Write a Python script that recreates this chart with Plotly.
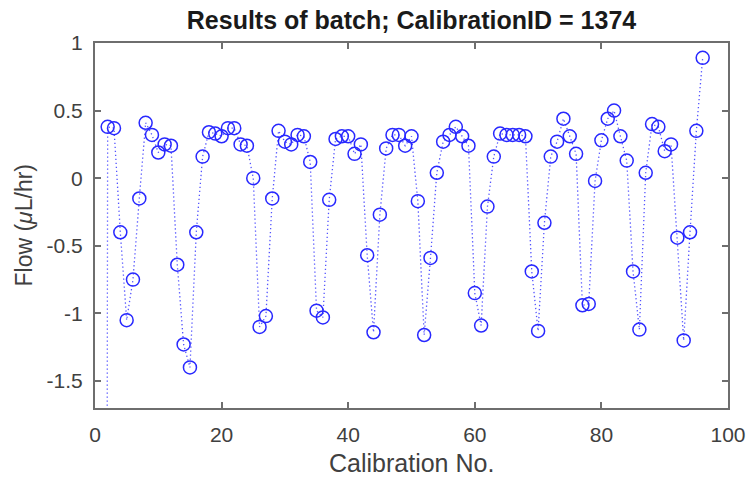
import plotly.graph_objects as go

# Flow measured for each calibration in the batch (µL/hr).
# The first calibration lies far below the plotted range.
flow = [
    -30.0, 0.38, 0.37, -0.40, -1.05, -0.75, -0.15, 0.41, 0.32, 0.19,
    0.25, 0.24, -0.64, -1.23, -1.40, -0.40, 0.16, 0.34, 0.33, 0.31,
    0.37, 0.37, 0.25, 0.24, 0.00, -1.10, -1.02, -0.15, 0.35, 0.27,
    0.25, 0.32, 0.31, 0.12, -0.98, -1.03, -0.16, 0.29, 0.31, 0.31,
    0.18, 0.25, -0.57, -1.14, -0.27, 0.22, 0.32, 0.32, 0.24, 0.31,
    -0.17, -1.16, -0.59, 0.04, 0.27, 0.32, 0.38, 0.31, 0.24, -0.85,
    -1.09, -0.21, 0.16, 0.33, 0.32, 0.32, 0.32, 0.31, -0.69, -1.13,
    -0.33, 0.16, 0.27, 0.44, 0.31, 0.18, -0.94, -0.93, -0.02, 0.28,
    0.44, 0.50, 0.31, 0.13, -0.69, -1.12, 0.04, 0.40, 0.38, 0.20,
    0.25, -0.44, -1.20, -0.40, 0.35, 0.89,
]
calib_no = list(range(1, len(flow) + 1))

x_ticks = [0, 20, 40, 60, 80, 100]
y_ticks = [-1.5, -1, -0.5, 0, 0.5, 1]
y_tick_text = ["-1.5", "-1", "-0.5", "0", "0.5", "1"]

title_text = "Results of batch; CalibrationID = 1374"
x_title = "Calibration No."
y_title = "Flow (<i>μ</i>L/hr)"

BLUE = "rgb(40,40,255)"
FRAME = "#6e6e6e"
TEXT = "#404040"
FONT = "Liberation Sans, Arial, sans-serif"

fig = go.Figure()
fig.add_trace(go.Scatter(
    x=calib_no,
    y=flow,
    mode="lines+markers",
    line=dict(color="rgba(40,40,255,0.8)", width=1.3, dash="1.3px,2.7px"),
    marker=dict(symbol="circle-open", size=13, color=BLUE,
                line=dict(color=BLUE, width=1.5)),
    cliponaxis=True,
    showlegend=False,
))

axis_common = dict(
    showgrid=False,
    zeroline=False,
    showline=True,
    linecolor=FRAME,
    linewidth=2,
    mirror="ticks",
    ticks="inside",
    ticklen=6,
    tickwidth=1.5,
    tickcolor=FRAME,
    tickfont=dict(family=FONT, size=21, color=TEXT),
)

fig.update_xaxes(
    range=[0, 100],
    tickmode="array",
    tickvals=x_ticks,
    ticktext=[str(v) for v in x_ticks],
    ticklabelstandoff=7,
    **axis_common,
)
fig.update_yaxes(
    range=[-1.7, 1],
    tickmode="array",
    tickvals=y_ticks,
    ticktext=y_tick_text,
    ticklabelstandoff=6,
    **axis_common,
)

fig.update_layout(
    width=749,
    height=484,
    margin=dict(l=95, r=21, t=43, b=76, autoexpand=False),
    paper_bgcolor="white",
    plot_bgcolor="white",
    title=dict(
        text="<b>" + title_text + "</b>",
        x=0.5, xref="paper", xanchor="center",
        y=1 - 20 / 484, yref="container", yanchor="middle",
        font=dict(family=FONT, size=25, color="#1a1a1a"),
    ),
    annotations=[
        dict(text=x_title, xref="paper", yref="paper", x=0.5, y=-55 / 365,
             xanchor="center", yanchor="middle", showarrow=False,
             font=dict(family=FONT, size=25, color=TEXT)),
        dict(text=y_title, xref="paper", yref="paper", x=-72 / 633, y=0.5,
             xanchor="center", yanchor="middle", textangle=-90, showarrow=False,
             font=dict(family=FONT, size=23, color=TEXT)),
    ],
)

fig.write_html("out.html")
